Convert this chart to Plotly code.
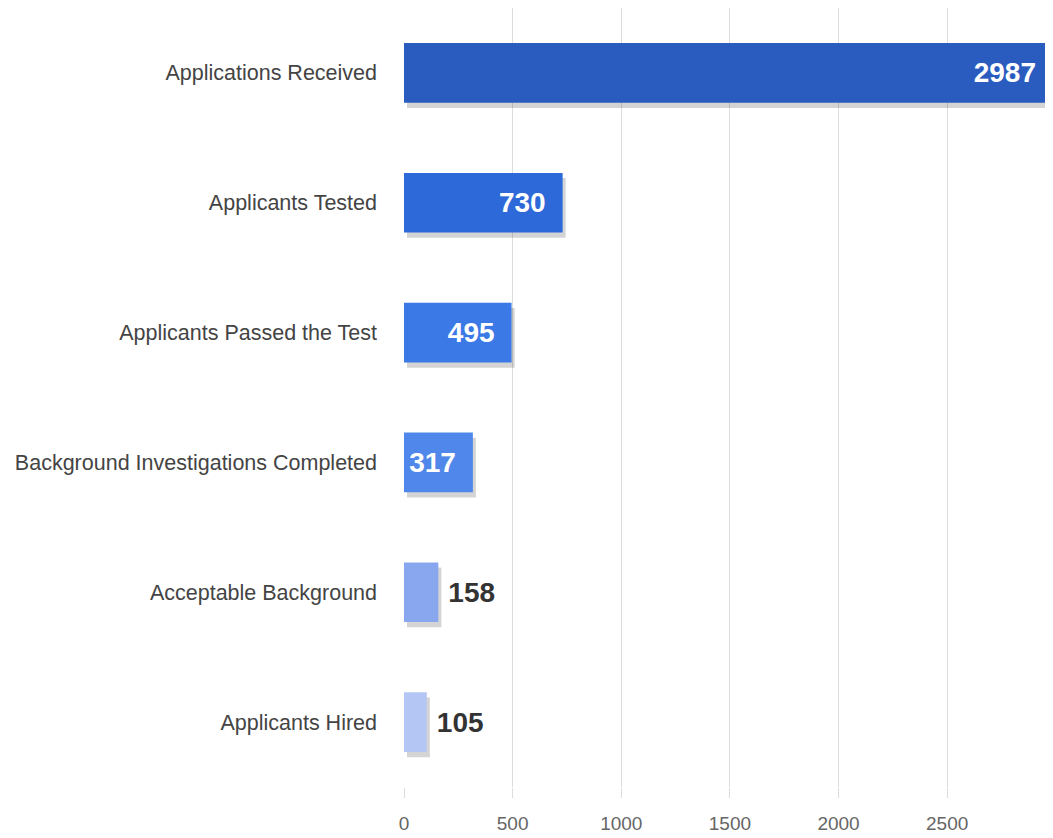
import plotly.graph_objects as go

categories = [
    "Applications Received",
    "Applicants Tested",
    "Applicants Passed the Test",
    "Background Investigations Completed",
    "Acceptable Background",
    "Applicants Hired",
]
values = [2987, 730, 495, 317, 158, 105]
bar_colors = ["#2a5cc0", "#2d69d8", "#3a79e6", "#4f88ea", "#88a7ef", "#b4c7f4"]
label_positions = ["inside", "inside", "inside", "inside", "outside", "outside"]
label_templates = ["%{x:d}\u2002"] * 4 + ["\u2005%{x:d}"] * 2
tick_values = [0, 500, 1000, 1500, 2000, 2500]

FONT = "Liberation Sans, Arial, sans-serif"
BAR_W = 0.46

fig = go.Figure()
# soft drop shadow behind each bar
fig.add_trace(go.Bar(
    y=categories,
    x=values,
    base=14,
    orientation="h",
    width=BAR_W,
    offset=-BAR_W / 2 + 0.04,
    marker=dict(color="rgba(40,40,40,0.2)", line=dict(width=0)),
    hoverinfo="skip",
    showlegend=False,
))
fig.add_trace(go.Bar(
    y=categories,
    x=values,
    orientation="h",
    width=BAR_W,
    offset=-BAR_W / 2,
    marker=dict(color=bar_colors, line=dict(width=0)),
    texttemplate=label_templates,
    textposition=label_positions,
    insidetextanchor="end",
    outsidetextfont=dict(family=FONT, size=28, color="#333333", weight="bold"),
    insidetextfont=dict(family=FONT, size=28, color="#ffffff", weight="bold"),
    textangle=0,
    constraintext="none",
    cliponaxis=False,
    showlegend=False,
))

# page body adds an 8px margin, so the figure is 8px smaller than the window
fig.update_layout(
    width=1045,
    height=830,
    margin=dict(l=396, r=0, t=0, b=51, autoexpand=False),
    paper_bgcolor="white",
    plot_bgcolor="white",
    barmode="overlay",
    xaxis=dict(
        range=[0, 2987],
        tickvals=tick_values,
        showgrid=True,
        gridcolor="#dcdcdc",
        gridwidth=1,
        zeroline=False,
        ticks="outside",
        ticklen=10,
        tickcolor="#dcdcdc",
        tickfont=dict(family=FONT, size=19, color="#666666"),
        ticklabelstandoff=9,
        showline=False,
        automargin=False,
    ),
    yaxis=dict(
        autorange="reversed",
        tickfont=dict(family=FONT, size=21.5, color="#444444"),
        ticks="",
        ticklabelstandoff=26,
        showgrid=False,
        showline=False,
        automargin=False,
    ),
)

fig.write_html("out.html")
